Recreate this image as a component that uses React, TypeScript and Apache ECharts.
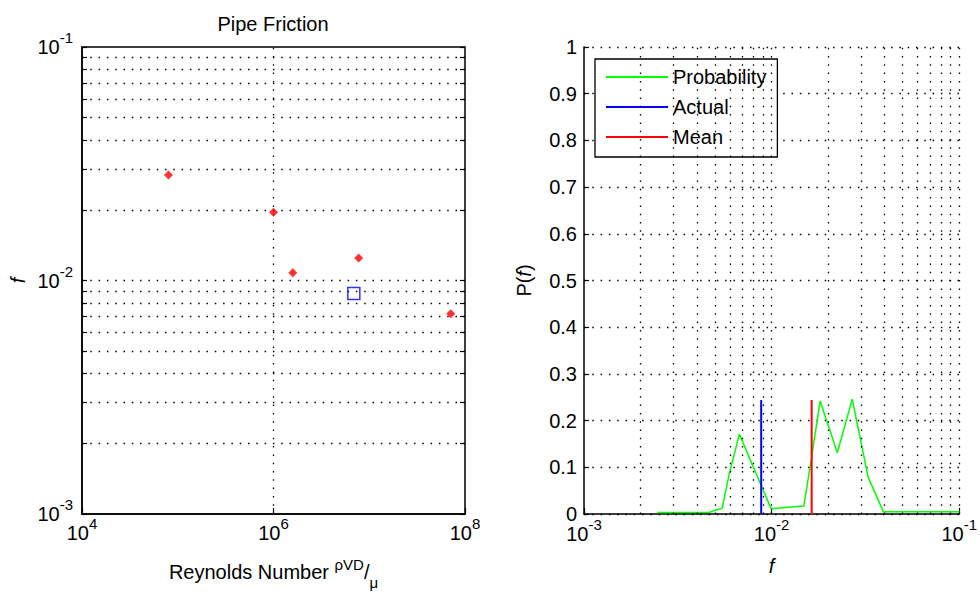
import React, { useEffect, useRef } from 'react';
import * as echarts from 'echarts';

// ---- Left panel data ----
const reynolds = [8.0e4, 1.0e6, 1.59e6, 7.76e6, 7.1e7];
const friction = [0.0283, 0.0196, 0.0108, 0.01247, 0.0072];
const actualRe = 6.9e6;
const actualF = 0.0088;

// ---- Right panel data ----
const probX = [0.00247, 0.0047, 0.00508, 0.00545, 0.0059, 0.00673, 0.00863, 0.00995, 0.011, 0.01485, 0.0161, 0.01815, 0.0224, 0.0269, 0.0327, 0.0394, 0.1];
const probY = [0.003, 0.004, 0.009, 0.012, 0.08, 0.171, 0.069, 0.011, 0.013, 0.017, 0.105, 0.242, 0.131, 0.246, 0.079, 0.005, 0.005];
const meanF = 0.01635;
const markerTop = 0.244;

// ---- Ticks / grid values ----
const leftXLabels = [1e4, 1e6, 1e8];
const leftXGrid = [1e6];
const leftYLabels = [1e-3, 1e-2, 1e-1];
const leftYGrid = [0.002, 0.003, 0.004, 0.005, 0.006, 0.007, 0.008, 0.009, 0.01, 0.02, 0.03, 0.04, 0.05, 0.06, 0.07, 0.08, 0.09];
const leftYTicks = [0.001, ...leftYGrid, 0.1];
const rightXLabels = [1e-3, 1e-2, 1e-1];
const rightXGrid = [0.002, 0.003, 0.004, 0.005, 0.006, 0.007, 0.008, 0.009, 0.01, 0.02, 0.03, 0.04, 0.05, 0.06, 0.07, 0.08, 0.09, 0.1];

const FONT = '"Liberation Sans", Arial, Helvetica, sans-serif';
const BLACK = '#000';
const dotted = { color: BLACK, width: 1.3, type: [1.5, 6.8] as number[] };

function powLabel(v: number) {
  const e = Math.round(Math.log10(v));
  return `{b|10}{s|${e}}`;
}
const powRich = {
  b: { fontSize: 20, fontFamily: FONT, color: BLACK, lineHeight: 20, verticalAlign: 'middle' },
  s: { fontSize: 15, fontFamily: FONT, color: BLACK, lineHeight: 15, verticalAlign: 'middle', padding: [0, 0, 19, 0] },
};

export default function App() {
  const ref = useRef<HTMLDivElement>(null);
  useEffect(() => {
    const chart = echarts.init(ref.current!, null, { renderer: 'svg' });
    const markLineBase = {
      silent: true,
      symbol: ['none', 'none'],
      precision: 10,
      label: { show: false },
      lineStyle: dotted,
      emphasis: { disabled: true },
      animation: false,
    };
    const option: any = {
      animation: false,
      backgroundColor: '#fff',
      textStyle: { fontFamily: FONT },
      graphic: [
        {
          type: 'text',
          x: 273,
          y: 24,
          style: {
            text: 'Pipe Friction',
            fontSize: 20,
            fontFamily: FONT,
            fill: BLACK,
            textAlign: 'center',
            textVerticalAlign: 'middle',
          },
        },
      ],
      grid: [
        { left: 82, top: 47, width: 383, height: 467, show: true, borderColor: BLACK, borderWidth: 1.5, backgroundColor: '#fff' },
        { left: 584, top: 47, width: 383, height: 467 },
      ],
      legend: {
        data: ['Probability', 'Actual', 'Mean'],
        orient: 'vertical',
        left: 595,
        top: 59,
        icon: 'rect',
        itemWidth: 62,
        itemHeight: 2,
        itemGap: 10,
        itemTextGap: 6,
        padding: [8, 11, 10, 11],
        borderColor: BLACK,
        borderWidth: 1.3,
        borderRadius: 0,
        backgroundColor: '#fff',
        selectedMode: false,
        textStyle: { fontSize: 20, fontFamily: FONT, color: BLACK, lineHeight: 20 },
      },
      xAxis: [
        {
          gridIndex: 0,
          type: 'log',
          logBase: 10,
          min: 1e4,
          max: 1e8,
          position: 'bottom',
          axisLine: { show: true, lineStyle: { color: BLACK, width: 1.5 } },
          axisTick: { show: true, inside: true, length: 6, customValues: leftXLabels, lineStyle: { color: BLACK, width: 1.2 } },
          axisLabel: {
            customValues: leftXLabels,
            margin: 9,
            formatter: (v: number) => {
              const e = Math.round(Math.log10(v));
              return e % 2 === 0 ? powLabel(v) : '';
            },
            rich: powRich,
          },
          splitLine: { show: false },
          name: '{n|Reynolds Number }{sup|ρVD}{n|/}{sub|μ}',
          nameLocation: 'middle',
          nameGap: 38,
          nameTextStyle: {
            fontSize: 20,
            fontFamily: FONT,
            color: BLACK,
            rich: {
              n: { fontSize: 20, fontFamily: FONT, color: BLACK, lineHeight: 20, verticalAlign: 'middle' },
              sup: { fontSize: 15, fontFamily: FONT, color: BLACK, lineHeight: 15, verticalAlign: 'middle', padding: [0, 0, 16, 0] },
              sub: { fontSize: 15, fontFamily: FONT, color: BLACK, lineHeight: 15, verticalAlign: 'middle', padding: [20, 0, 0, 0] },
            },
          },
        },
        {
          gridIndex: 1,
          type: 'log',
          logBase: 10,
          min: 1e-3,
          max: 1e-1,
          position: 'bottom',
          axisLine: { show: true, lineStyle: { color: BLACK, width: 1.5 } },
          axisTick: { show: true, inside: true, length: 6, customValues: rightXLabels, lineStyle: { color: BLACK, width: 1.2 } },
          axisLabel: { customValues: rightXLabels, margin: 10, formatter: powLabel, rich: powRich },
          splitLine: { show: false },
          name: 'f',
          nameLocation: 'middle',
          nameGap: 42,
          nameTextStyle: { fontSize: 20, fontFamily: FONT, color: BLACK, fontStyle: 'italic' },
        },
      ],
      yAxis: [
        {
          gridIndex: 0,
          type: 'log',
          logBase: 10,
          min: 1e-3,
          max: 1e-1,
          position: 'left',
          axisLine: { show: true, lineStyle: { color: BLACK, width: 1.5 } },
          axisTick: { show: true, inside: true, length: 5, customValues: leftYTicks, lineStyle: { color: BLACK, width: 1.2 } },
          axisLabel: { customValues: leftYLabels, margin: 9, formatter: powLabel, rich: powRich },
          splitLine: { show: false },
          name: 'f',
          nameLocation: 'middle',
          nameGap: 54,
          nameTextStyle: { fontSize: 20, fontFamily: FONT, color: BLACK, fontStyle: 'italic' },
        },
        {
          gridIndex: 0,
          type: 'log',
          logBase: 10,
          min: 1e-3,
          max: 1e-1,
          position: 'right',
          axisLine: { show: false },
          axisTick: { show: true, inside: true, length: 5, customValues: leftYTicks, lineStyle: { color: BLACK, width: 1.2 } },
          axisLabel: { show: false },
          splitLine: { show: false },
        },
        {
          gridIndex: 1,
          type: 'value',
          min: 0,
          max: 1,
          interval: 0.1,
          position: 'left',
          axisLine: { show: true, lineStyle: { color: BLACK, width: 1.5 } },
          axisTick: { show: true, inside: true, length: 5, lineStyle: { color: BLACK, width: 1.2 } },
          axisLabel: {
            margin: 7,
            fontSize: 20,
            lineHeight: 16,
            fontFamily: FONT,
            color: BLACK,
            formatter: (v: number) => (v === 0 || v === 1 ? String(v) : v.toFixed(1)),
          },
          splitLine: { show: true, lineStyle: dotted },
          name: 'P({i|f})',
          nameLocation: 'middle',
          nameGap: 50,
          nameTextStyle: {
            fontSize: 20,
            fontFamily: FONT,
            color: BLACK,
            rich: { i: { fontSize: 20, fontFamily: FONT, color: BLACK, fontStyle: 'italic' } },
          },
        },
      ],
      series: [
        {
          name: 'leftGrid',
          type: 'line',
          xAxisIndex: 0,
          yAxisIndex: 0,
          data: [],
          z: 1,
          markLine: {
            ...markLineBase,
            data: [...leftYGrid.map((v) => ({ yAxis: v })), ...leftXGrid.map((v) => ({ xAxis: v }))],
          },
        },
        {
          name: 'Friction',
          type: 'scatter',
          xAxisIndex: 0,
          yAxisIndex: 0,
          symbol: 'diamond',
          symbolSize: 9,
          itemStyle: { color: '#ff0000' },
          z: 5,
          data: reynolds.map((r, i) => [r, friction[i]]),
        },
        {
          name: 'ActualPoint',
          type: 'scatter',
          xAxisIndex: 0,
          yAxisIndex: 0,
          symbol: 'rect',
          symbolSize: 12,
          itemStyle: { color: 'rgba(0,0,0,0)', borderColor: '#0000ff', borderWidth: 1.5 },
          z: 5,
          data: [[actualRe, actualF]],
        },
        {
          name: 'rightGrid',
          type: 'line',
          xAxisIndex: 1,
          yAxisIndex: 2,
          data: [],
          z: 1,
          markLine: {
            ...markLineBase,
            data: rightXGrid.map((v) => ({ xAxis: v })),
          },
        },
        {
          name: 'Probability',
          type: 'line',
          xAxisIndex: 1,
          yAxisIndex: 2,
          showSymbol: false,
          symbol: 'none',
          color: '#00ff00',
          itemStyle: { color: '#00ff00' },
          lineStyle: { color: '#00ff00', width: 1.5 },
          z: 4,
          data: probX.map((x, i) => [x, probY[i]]),
        },
        {
          name: 'Actual',
          type: 'line',
          xAxisIndex: 1,
          yAxisIndex: 2,
          showSymbol: false,
          symbol: 'none',
          color: '#0000ff',
          itemStyle: { color: '#0000ff' },
          lineStyle: { color: '#0000ff', width: 2 },
          z: 5,
          data: [[actualF, 0], [actualF, markerTop]],
        },
        {
          name: 'Mean',
          type: 'line',
          xAxisIndex: 1,
          yAxisIndex: 2,
          showSymbol: false,
          symbol: 'none',
          color: '#ff0000',
          itemStyle: { color: '#ff0000' },
          lineStyle: { color: '#ff0000', width: 2 },
          z: 5,
          data: [[meanF, 0], [meanF, markerTop]],
        },
      ],
    };
    chart.setOption(option);
    return () => chart.dispose();
  }, []);
  return (
    <div
      ref={ref}
      style={{ position: 'fixed', left: 0, top: 0, width: 980, height: 595, background: '#fff' }}
    />
  );
}
